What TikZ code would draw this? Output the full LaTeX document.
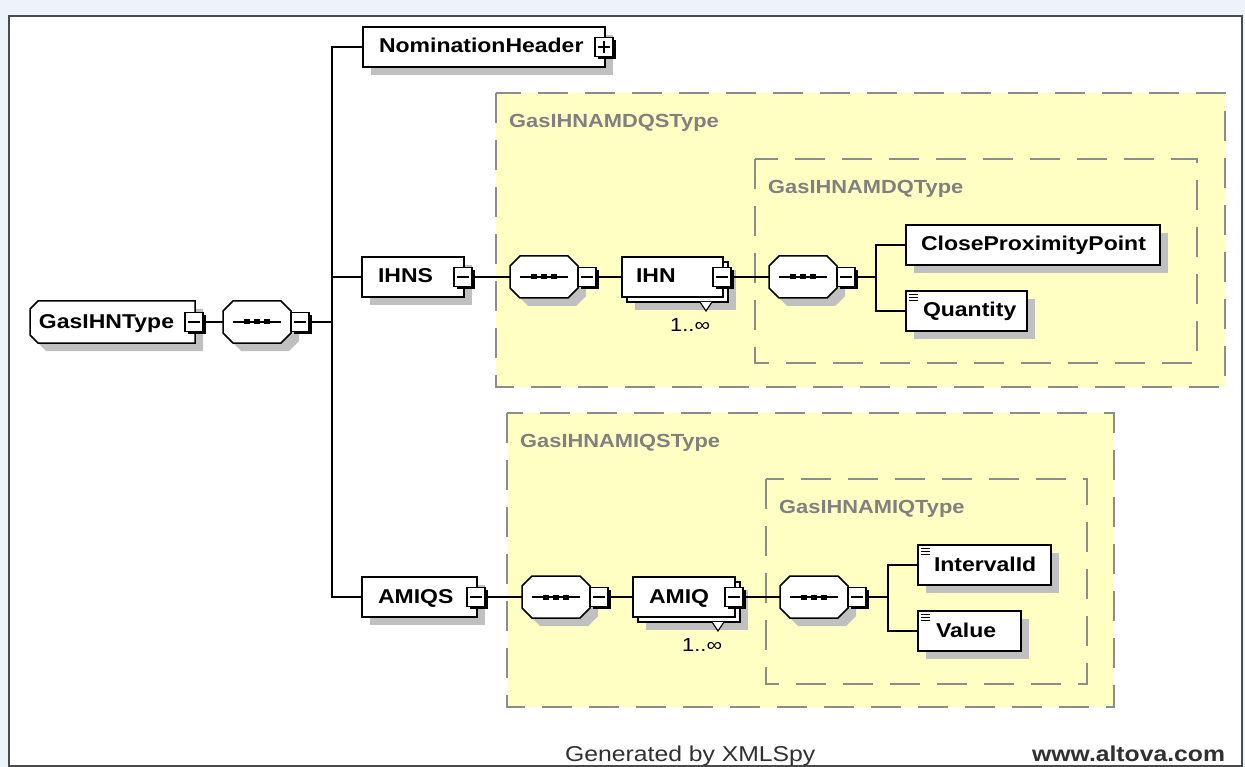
\documentclass[tikz,border=0pt]{standalone}
\usepackage{fontspec}
\setmainfont{Liberation Sans}
\newfontfamily\lbl[FakeStretch=1.15]{Liberation Sans}
\usetikzlibrary{calc,shadows}
\definecolor{bgblue}{HTML}{EEF2FA}
\definecolor{framec}{HTML}{4A4A4A}
\definecolor{shadowc}{HTML}{C0C0C0}
\definecolor{yel}{HTML}{FFFFC4}
\definecolor{dashc}{HTML}{8C8C8C}
\definecolor{titlec}{HTML}{808080}
\definecolor{foot}{HTML}{303030}

\tikzset{
  conn/.style={draw=black, line width=1.5pt},
  elembase/.style={draw=black, line width=1.5pt, fill=white, anchor=north west,
    inner xsep=0pt, inner ysep=0pt, outer sep=0pt, text height=12pt, text depth=0pt,
    align=left, font=\lbl\bfseries\fontsize{20}{24}\selectfont, minimum height=40pt},
  elemsh/.style={elembase, drop shadow={shadow xshift=8pt, shadow yshift=-8pt, fill=shadowc, opacity=1}},
  pmb/.style={draw=black, line width=1.4pt, fill=white, minimum width=18pt, minimum height=19pt,
    inner sep=0pt, outer sep=0pt, drop shadow={shadow xshift=2.5pt, shadow yshift=-2.5pt, fill=black, opacity=1}},
  grptitle/.style={anchor=base west, inner sep=0pt, text=titlec, font=\lbl\bfseries\fontsize{19}{23}\selectfont},
  mult/.style={anchor=base west, inner sep=0pt, font=\lbl\fontsize{19}{23}\selectfont},
  grpbox/.style={draw=dashc, line width=2pt, dash pattern=on 30pt off 17pt, fill=yel},
  grpinner/.style={draw=dashc, line width=2pt, dash pattern=on 30pt off 17pt},
  footer/.style={anchor=base west, inner sep=0pt, text=foot},
}

\newcommand\minusbox[3]{%
  \node[pmb] (#1) at (#2,#3) {};
  \draw[line width=1.4pt] ($(#1.center)+(-6,0)$) -- ($(#1.center)+(6,0)$);
}
\newcommand\plusbox[3]{%
  \node[pmb] (#1) at (#2,#3) {};
  \draw[line width=1.4pt] ($(#1.center)+(-6,0)$) -- ($(#1.center)+(6,0)$);
  \draw[line width=1.4pt] ($(#1.center)+(0,-6)$) -- ($(#1.center)+(0,6)$);
}
\newcommand\seqc[4]{%
  \begin{scope}[shift={(#2,#3)}]
    \fill[shadowc] (18,8) -- (66,8) -- (76,18) -- (76,40) -- (66,50) -- (18,50) -- (8,40) -- (8,18) -- cycle;
    \draw[line width=1.5pt, fill=white] (10,0) -- (58,0) -- (68,10) -- (68,32) -- (58,42) -- (10,42) -- (0,32) -- (0,10) -- cycle;
    \draw[line width=1.5pt] (10,21) -- (58,21);
    \foreach \u in {24,34,44} \fill (\u-3,18.5) rectangle (\u+3,23.5);
  \end{scope}
  \node[inner sep=0pt, outer sep=0pt, minimum width=68pt, minimum height=42pt, anchor=north west] (#1) at (#2,#3) {};
  \minusbox{#4}{#2+77}{#3+21}
}
\newcommand\simpleicon[1]{%
  \foreach \d in {3.5,6.5,9.5} \draw[line width=1pt] ($(#1.north west)+(3,\d)$) -- ++(9,0);
}

\begin{document}
\begin{tikzpicture}[x=1pt,y=-1pt]
\useasboundingbox (0,0) rectangle (1245,767);
\fill[bgblue] (0,0) rectangle (1245,767);
\draw[framec, line width=2pt, fill=white] (9,16) rectangle (1242,766);

% group boxes
\draw[grpbox] (496,93) rectangle (1225,387);
\draw[grpinner] (755,159) rectangle (1197,363);
\draw[grpbox] (507,413) rectangle (1114,707);
\draw[grpinner] (766,479) rectangle (1087,684);
\node[grptitle] (t1) at (509,127.5) {GasIHNAMDQSType};
\node[grptitle] (t2) at (768,193.5) {GasIHNAMDQType};
\node[grptitle] (t3) at (520,447.5) {GasIHNAMIQSType};
\node[grptitle] (t4) at (779,513.5) {GasIHNAMIQType};

% root element
\fill[shadowc] (46,309) -- (203,309) -- (203,351) -- (46,351) -- (38,343) -- (38,317) -- cycle;
\draw[line width=1.5pt, fill=white] (38,301) -- (195,301) -- (195,343) -- (38,343) -- (30,335) -- (30,309) -- cycle;
\node[elembase, draw=none, fill=none, text width=165pt, minimum height=42pt] (gt) at (30,301) {\hspace*{9pt}GasIHNType};
\minusbox{gtm}{194}{322}

\seqc{c0}{223}{301}{c0m}

% first level children
\node[elemsh, text width=242pt] (nh) at (363,27) {\hspace*{16pt}NominationHeader};
\plusbox{nhp}{604}{47}
\node[elemsh, text width=102pt] (ihns) at (362,257) {\hspace*{16pt}IHNS};
\minusbox{ihnsm}{463}{277}
\node[elemsh, text width=115pt] (amiqs) at (362,577) {\hspace*{16pt}AMIQS};
\minusbox{amiqsm}{476}{597}

% IHN branch
\seqc{c1}{510}{256}{c1m}
\node[elemsh, text width=101pt] (ihnb) at (627,262) {};
\draw[line width=1.2pt, fill=white] (700,302) -- (706,311) -- (712,302);
\node[elembase, text width=101pt] (ihn) at (622,257) {\hspace*{14pt}IHN};
\minusbox{ihnm}{722}{277}
\node[mult] (m1) at (670,331.5) {1..∞};
\seqc{c2}{769}{256}{c2m}
\node[elemsh, text width=254pt] (cpp) at (906,225) {\hspace*{15pt}CloseProximityPoint};
\node[elemsh, text width=121pt] (qty) at (906,291) {\hspace*{17pt}Quantity};
\simpleicon{qty}

% AMIQ branch
\seqc{c3}{522}{576}{c3m}
\node[elemsh, text width=102pt] (amiqb) at (638,582) {};
\draw[line width=1.2pt, fill=white] (712,622) -- (718,631) -- (724,622);
\node[elembase, text width=102pt] (amiq) at (633,577) {\hspace*{16pt}AMIQ};
\minusbox{amiqm}{734}{597}
\node[mult] (m2) at (682,651.5) {1..∞};
\seqc{c4}{780}{576}{c4m}
\node[elemsh, text width=133pt] (iid) at (918,545) {\hspace*{16pt}IntervalId};
\simpleicon{iid}
\node[elemsh, text width=103pt] (val) at (918,611) {\hspace*{18pt}Value};
\simpleicon{val}

% connectors
\coordinate (tr) at (332,322);
\draw[conn] (gtm.east) -- (c0.west);
\draw[conn] (c0m.east) -- (tr);
\draw[conn] (tr) |- (nh.west);
\draw[conn] (tr) |- (ihns.west);
\draw[conn] (tr) |- (amiqs.west);

\draw[conn] (ihnsm.east) -- (c1.west);
\draw[conn] (c1m.east) -- (ihn.west);
\draw[conn] (ihnm.east) -- (c2.west);
\coordinate (b1) at (876,277);
\draw[conn] (c2m.east) -- (b1);
\draw[conn] (b1) |- (cpp.west);
\draw[conn] (b1) |- (qty.west);

\draw[conn] (amiqsm.east) -- (c3.west);
\draw[conn] (c3m.east) -- (amiq.west);
\draw[conn] (amiqm.east) -- (c4.west);
\coordinate (b2) at (888,597);
\draw[conn] (c4m.east) -- (b2);
\draw[conn] (b2) |- (iid.west);
\draw[conn] (b2) |- (val.west);

% footer
\node[footer, font=\lbl\fontsize{21.5}{26}\selectfont] (gen) at (565,761) {Generated by XMLSpy};
\node[footer, font=\lbl\bfseries\fontsize{21.5}{26}\selectfont] (alt) at (1032,761) {www.altova.com};
\end{tikzpicture}
\end{document}
